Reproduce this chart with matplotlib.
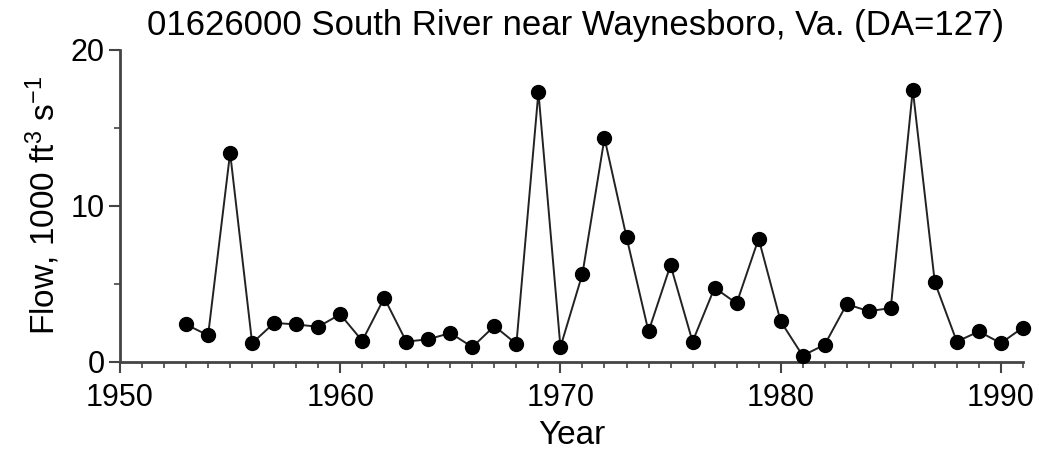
import matplotlib
matplotlib.use("Agg")
import matplotlib.pyplot as plt
from matplotlib.ticker import MultipleLocator

plt.rcParams['font.family'] = ['Liberation Sans', 'DejaVu Sans']
plt.rcParams['mathtext.fontset'] = 'custom'
plt.rcParams['mathtext.rm'] = 'Liberation Sans'
plt.rcParams['mathtext.it'] = 'Liberation Sans'

# Annual peak flow, 1000 ft3/s
years = list(range(1953, 1992))
flow = [2.4, 1.7, 13.4, 1.2, 2.5, 2.4, 2.25, 3.05,
        1.35, 4.1, 1.3, 1.45, 1.85, 0.95, 2.3, 1.15, 17.3, 0.95,
        5.65, 14.35, 8.0, 1.95, 6.2, 1.3, 4.75, 3.75, 7.9, 2.6,
        0.4, 1.1, 3.7, 3.25, 3.45, 17.45, 5.1, 1.3, 1.95, 1.2, 2.2]

fig = plt.figure(figsize=(10.39, 4.49), dpi=100)
ax = fig.add_axes([0.1155, 0.194, 0.869, 0.695])

ax.plot(years, flow, color='#222222', lw=1.4, marker='o', markersize=10,
        markerfacecolor='black', markeredgecolor='black', clip_on=False, zorder=3)

ax.set_xlim(1950, 1991)
ax.set_ylim(0, 20)
ax.xaxis.set_major_locator(MultipleLocator(10))
ax.xaxis.set_minor_locator(MultipleLocator(1))
ax.yaxis.set_major_locator(MultipleLocator(10))
ax.yaxis.set_minor_locator(MultipleLocator(5))

for s in ['top', 'right']:
    ax.spines[s].set_visible(False)
for s in ['left', 'bottom']:
    ax.spines[s].set_color('#444444')
    ax.spines[s].set_linewidth(2)

ax.tick_params(which='major', length=8, width=1.5, color='#444444', labelsize=22)
ax.tick_params(axis='x', which='major', pad=7)
ax.tick_params(axis='y', which='major', pad=3)
ax.tick_params(which='minor', length=4, width=1.2, color='#444444')

ax.set_xlabel('Year', fontsize=24, labelpad=5)
ax.set_ylabel('Flow, 1000 ft$^3$ s$^{-1}$', fontsize=24, labelpad=6)
ax.set_title('01626000 South River near Waynesboro, Va. (DA=127)', fontsize=25, pad=11, x=0.504)

fig.savefig('out.png', dpi=100)
